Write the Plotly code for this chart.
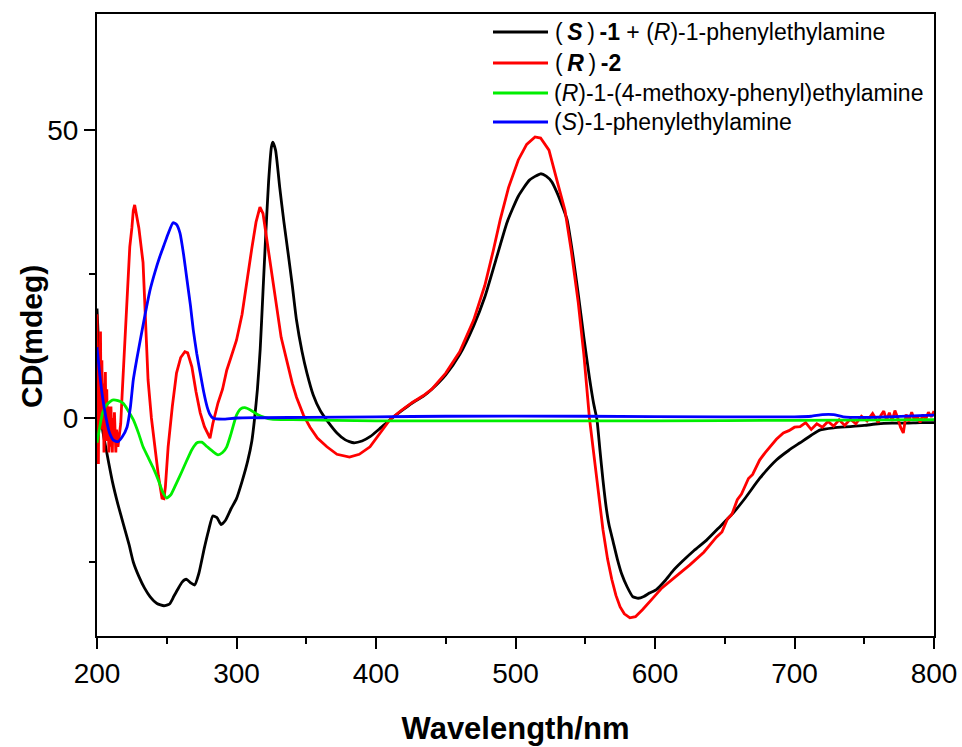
import plotly.graph_objects as go

# ---------------- data ----------------
black_wl = [200, 202, 204, 207, 211, 215, 219, 223, 226, 230, 234, 238, 243, 248, 252, 255, 258, 261, 264, 267,
            270, 273, 277, 280, 283, 286, 289, 292, 296, 300, 304, 308, 311, 313, 315, 317, 319, 321, 323, 325,
            326, 328, 331, 334, 337, 340, 343, 347, 350.5, 355, 360, 366, 372, 378, 384, 390, 396, 402, 410, 418, 426,
            434, 440, 450, 460, 470, 478, 486, 494, 502, 510, 518, 522, 526, 530, 534, 537, 541, 545, 549, 553,
            556, 558.4, 560.5, 562.7, 565, 567, 570, 573, 576, 580, 584, 588, 592, 596, 601, 607, 613, 620, 628, 637, 646, 656,
            665, 675, 687, 696, 704, 712, 718, 728, 740, 750, 760, 770, 780, 790, 800]
black_cd = [19, 8, -2, -6, -11, -15, -18.5, -22, -25, -27.5, -29.5, -31, -32.2, -32.6, -32.3, -31, -29.7, -28.5, -28, -28.6,
            -29, -27, -22.5, -19.5, -17, -17.3, -18.5, -17.8, -15.8, -14, -11, -7.5, -4, 0, 5, 12, 22, 32, 41, 47,
            47.9, 46.5, 40, 34, 28.6, 23, 17, 11.5, 7.8, 4, 1.3, -0.8, -2.6, -3.8, -4.3, -4, -3.2, -2, -0.3, 1.2, 2.6,
            3.8, 5, 7.5, 11, 16, 21, 27.5, 34, 38.5, 41.3, 42.4, 42, 41, 39, 36.5, 34.4, 28.5, 21.5, 14, 7,
            2.5, -0.3, -5.5, -10.8, -15.5, -18.5, -21.5, -24.5, -27, -29.3, -31, -31.3, -31, -30.4, -29.8, -28.3, -26.5, -24.8, -23, -21.2, -19, -16.5,
            -13.8, -10.5, -7.3, -5.6, -4.3, -3, -2.1, -1.7, -1.5, -1.3, -1.0, -0.9, -0.9, -0.8, -0.8]

red_wl = [200, 200.5, 201, 201.5, 202, 202.5, 203, 203.5, 204, 204.5, 205, 205.5, 206, 206.5, 207, 207.5, 208, 208.5,
          209, 209.5, 210, 210.5, 211, 211.5, 212, 212.5, 213, 213.5, 214, 214.5, 215, 216, 217, 218, 219, 220, 221,
          222, 223.5, 225, 226, 227, 228, 230, 233, 235, 236.6, 239, 241.6, 244, 246.6, 248, 249, 251, 254, 257, 260,
          263, 265, 268, 271, 274, 277, 281, 283, 286.7, 290, 293, 296, 300, 304, 307.5, 311, 314, 316.8, 319, 322.6,
          326, 329, 332, 336, 340, 343, 348, 352.7, 358, 364.8, 372, 381, 388, 395.7, 402, 410, 418, 426, 434, 440,
          450, 460, 470, 478, 484, 489, 495, 502, 508, 514, 518, 524, 530, 535.5, 540, 545, 549, 553, 556, 558.4,
          562.7, 566, 569, 572, 575, 578, 582, 586, 591, 598, 605, 615, 625, 635, 644, 648, 652, 655, 659, 662, 667,
          670, 675, 679, 683, 687, 692, 696, 700, 704, 708, 712, 716, 720, 724, 728, 732, 736, 740, 744, 748, 752,
          756, 760, 762, 764, 766, 768, 770, 772, 774, 776, 778, 780, 782, 784, 786, 788, 790, 792, 794, 796, 798, 800]
red_cd = [18, -3, -8, 12, 4, 15, -2, 10, 0, 6, -6, 3, 8, -4, 5, -2, 2, -6,
          -1, -5, 2, -3, -6, 0, -4, 1, -3, -6, -2, -4, -5, -3, -1, 4, 9, 14, 19,
          24, 29.7, 33, 36, 37, 35.5, 33, 27, 16, 6.6, 0, -5, -10, -13.9, -14, -12, -5, 2, 7.8, 10.5,
          11.5, 11.3, 8.9, 4.5, 0.9, -1.5, -3.5, -1, 2.6, 5, 8.3, 10.5, 13.5, 18, 24, 29.5, 34, 36.6, 35.5, 29.7,
          24, 19.3, 14, 10, 6, 3.6, 0.5, -1.6, -3.5, -5, -6.3, -6.8, -6.3, -5, -3, -0.3, 1.3, 2.7, 3.9, 5,
          7.8, 11.5, 17, 23, 29, 34.4, 40, 44.8, 47.5, 48.8, 48.6, 46.5, 41, 36, 29, 20, 11, 0, -6, -10.8,
          -19.4, -24.5, -28, -30.8, -32.8, -34, -34.7, -34.5, -33.3, -31.4, -29.5, -27.5, -25.5, -23.3, -20.7, -19.8, -17.5, -16.8, -14.2, -13.2, -10.5,
          -9.8, -7.3, -6.0, -4.8, -3.7, -2.6, -2.2, -1.6, -1.5, -0.8, -2, -1, -1.6, -0.6, -1.4, -0.3, -1.3, -0.2, -1, 0.3, -0.5,
          0.8, -0.8, 0.5, 1.2, -0.4, 0.9, -0.5, 1.3, 0, -1.6, -2.6, 0.6, -0.6, 1, -0.4, 0.4, -0.8, 0.6, -0.3, 1, 0.2, 1.2]

green_wl = [200, 202, 204, 207, 211, 215, 219, 222, 226, 230, 233, 237, 240, 244, 247, 250, 253, 257, 261, 264.5,
            268, 271.7, 275, 279, 283, 286.7, 290, 293, 296, 300, 303, 306, 310, 315, 320, 325, 340, 400, 500, 600,
            700, 800]
green_cd = [-4.3, -1.5, 0.9, 2.3, 3.1, 3, 2.5, 1.4, -0.3, -2.8, -5, -7, -8.5, -10.8, -12.8, -13.9, -13.3, -11.3, -9.2, -7.3,
            -5.5, -4.3, -4.2, -5, -5.8, -6.4, -6, -5, -2.8, 0.5, 1.6, 1.8, 1.4, 0.6, 0.1, -0.2, -0.3, -0.5, -0.5, -0.5,
            -0.4, -0.3]

blue_wl = [200, 202, 204, 206.5, 209, 212, 215, 218, 221.5, 224, 226, 228.5, 231, 234.5, 238, 241.5, 245, 248, 251, 254.5,
           257, 259.5, 262, 264.5, 267, 269, 271.5, 274, 276.5, 279, 281, 283, 290, 300, 350, 400, 450, 550, 650, 700,
           712, 720, 728, 735, 750, 800]
blue_cd = [12.3, 7.5, 3.6, 0, -2.6, -3.9, -4.1, -3.3, -1.6, 2, 6.6, 10.2, 13.5, 18, 22.2, 25.3, 28, 30, 32, 33.9,
           33.6, 32.1, 28.5, 24, 19.5, 15.3, 11.2, 7.8, 4.5, 1.9, 0.6, 0, -0.2, 0, 0.1, 0.2, 0.3, 0.3, 0.2, 0.2,
           0.3, 0.6, 0.6, 0.2, 0.1, 0.5]

names = [
    "(\u2009<b><i>S</i></b>\u2009)\u2009<b>-1</b> + (<i>R</i>)-1-phenylethylamine",
    "(\u2009<b><i>R</i></b>\u2009)\u2009<b>-2</b>",
    "(<i>R</i>)-1-(4-methoxy-phenyl)ethylamine",
    "(<i>S</i>)-1-phenylethylamine",
]
colors = ["#000000", "#ff0000", "#00ee00", "#0000ff"]

x_title = "<b>Wavelength/nm</b>"
y_title = "<b>CD(mdeg)</b>"

FONT = "Liberation Sans, Arial, sans-serif"

fig = go.Figure()
series = [(black_wl, black_cd, "spline"), (red_wl, red_cd, "linear"),
          (green_wl, green_cd, "spline"), (blue_wl, blue_cd, "spline")]
for (x, y, shp), nm, c in zip(series, names, colors):
    line = dict(color=c, width=2.8, shape=shp)
    if shp == "spline":
        line["smoothing"] = 0.5
    fig.add_trace(go.Scatter(x=x, y=y, mode="lines", name=nm, line=line, showlegend=False))

# ---- manual legend (paper coordinates) ----
PL, PW, PB, PH = 97, 837, 636, 622   # plot area in pixels
def px(xp):
    return (xp - PL) / PW
def py(yp):
    return (PB - yp) / PH

row_y = [32, 63, 93, 122]
text_x = [553, 553, 552, 552]
for nm, c, ry, tx in zip(names, colors, row_y, text_x):
    fig.add_shape(type="line", xref="paper", yref="paper",
                  x0=px(493), x1=px(548), y0=py(ry), y1=py(ry),
                  line=dict(color=c, width=3))
    fig.add_annotation(text=nm, xref="paper", yref="paper", x=px(tx), y=py(ry),
                       xanchor="left", yanchor="middle", showarrow=False,
                       font=dict(family=FONT, size=23, color="black"))

# y-axis title as rotated annotation
fig.add_annotation(text=y_title, xref="paper", yref="paper", x=px(31), y=py(337),
                   xanchor="center", yanchor="middle", showarrow=False, textangle=-90,
                   font=dict(family=FONT, size=30, color="black"))

axis_common = dict(
    showline=True, linecolor="black", linewidth=2, mirror=True,
    ticks="outside", ticklen=11, tickwidth=2, tickcolor="black",
    showgrid=False, zeroline=False, automargin=False,
    tickfont=dict(family=FONT, size=28, color="black"),
)

fig.update_xaxes(range=[200, 800], dtick=100, tick0=200,
                 minor=dict(dtick=50, ticks="outside", ticklen=6, tickwidth=2, tickcolor="black"),
                 title=dict(text=x_title, font=dict(family=FONT, size=31, color="black"), standoff=30),
                 **axis_common)
fig.update_yaxes(range=[-37.85, 70.14], dtick=50, tick0=0,
                 minor=dict(dtick=25, ticks="outside", ticklen=6, tickwidth=2, tickcolor="black"),
                 **axis_common)

fig.update_layout(
    width=962, height=747,
    margin=dict(l=97, r=28, t=14, b=111),
    plot_bgcolor="white", paper_bgcolor="white",
    font=dict(family=FONT, color="black"),
    showlegend=False,
)

fig.write_html("out.html")
